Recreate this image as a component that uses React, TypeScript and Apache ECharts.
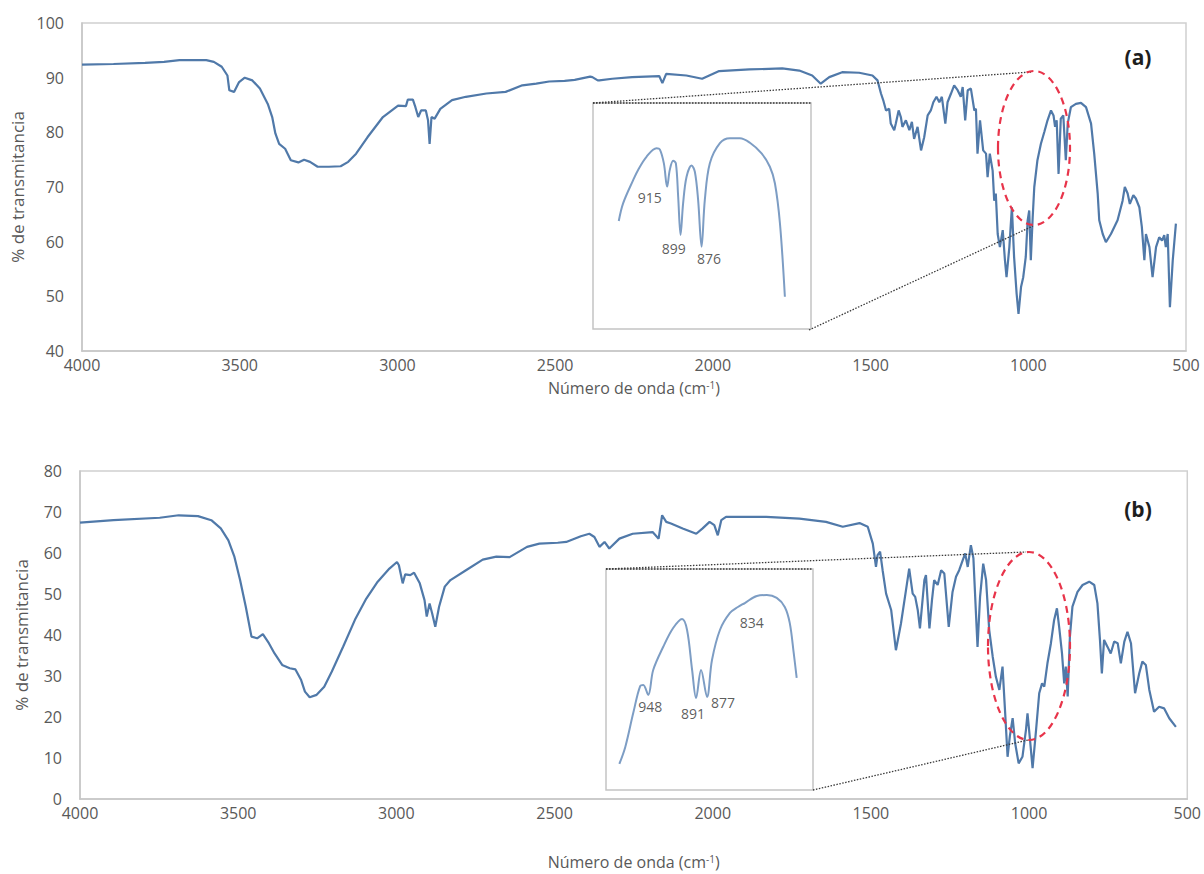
import React, { useEffect, useRef } from "react";
import * as echarts from "echarts";

// ---------- DATA ----------
const specA: [number, number][] = [
  [4000, 92.4], [3900, 92.5], [3800, 92.7], [3740, 92.9], [3691, 93.2], [3606, 93.2], [3582, 92.9], [3557, 92.0],
  [3539, 90.4], [3533, 87.7], [3518, 87.4], [3502, 89.2], [3484, 90.0], [3460, 89.5], [3436, 88.0], [3411, 85.2],
  [3397, 82.8], [3387, 79.8], [3375, 77.9], [3356, 77.0], [3338, 74.9], [3314, 74.5], [3296, 75.0], [3277, 74.6],
  [3253, 73.7], [3217, 73.7], [3180, 73.8], [3156, 74.6], [3131, 76.1], [3095, 79.1], [3046, 82.8], [2998, 84.9],
  [2973, 84.8], [2967, 86.0], [2951, 86.0], [2943, 84.6], [2934, 82.8], [2925, 84.0], [2910, 84.0], [2903, 82.2],
  [2898, 77.9], [2892, 82.8], [2882, 82.5], [2864, 84.3], [2827, 85.9], [2783, 86.5], [2718, 87.1], [2657, 87.4],
  [2604, 88.6], [2560, 88.9], [2519, 89.3], [2470, 89.4], [2438, 89.6], [2389, 90.2], [2382, 90.1], [2365, 89.5],
  [2360, 89.5], [2319, 89.8], [2256, 90.1], [2170, 90.3], [2160, 89.0], [2148, 90.7], [2084, 90.4], [2034, 89.8],
  [1980, 91.2], [1884, 91.5], [1780, 91.7], [1726, 91.3], [1685, 90.4], [1658, 88.9], [1631, 90.1], [1590, 91.0],
  [1536, 90.9], [1494, 90.4], [1478, 89.5], [1467, 87.1], [1460, 85.9], [1451, 84.0], [1441, 84.3], [1436, 81.6],
  [1425, 80.4], [1420, 81.6], [1411, 84.0], [1404, 82.8], [1399, 81.0], [1388, 82.2], [1377, 80.4], [1369, 81.9],
  [1362, 78.8], [1351, 81.0], [1340, 76.7], [1330, 79.1], [1319, 83.1], [1309, 84.0], [1301, 85.5], [1291, 86.5],
  [1282, 85.5], [1274, 86.5], [1263, 81.6], [1256, 85.5], [1245, 87.1], [1235, 88.6], [1224, 87.7], [1214, 86.5],
  [1208, 88.3], [1200, 82.2], [1192, 87.7], [1182, 88.0], [1171, 84.0], [1166, 84.3], [1161, 76.1], [1153, 82.2],
  [1143, 76.7], [1134, 76.1], [1129, 71.8], [1122, 76.1], [1113, 73.0], [1108, 67.5], [1103, 68.8], [1097, 61.4],
  [1090, 59.0], [1081, 62.1], [1074, 56.6], [1069, 53.5], [1060, 59.0], [1052, 66.3], [1045, 57.2], [1037, 50.5],
  [1031, 46.8], [1023, 51.7], [1016, 53.5], [1008, 57.2], [1002, 63.9], [997, 65.7], [992, 56.6], [986, 64.5],
  [981, 70.0], [971, 74.9], [960, 77.9], [949, 80.1], [939, 82.2], [928, 84.0], [920, 83.1], [915, 81.0],
  [910, 82.2], [904, 72.4], [897, 82.5], [889, 83.1], [881, 74.9], [875, 81.6], [865, 84.6], [849, 85.2],
  [833, 85.4], [817, 84.6], [801, 81.6], [791, 76.1], [780, 68.8], [775, 63.9], [764, 61.4], [754, 59.9],
  [738, 61.4], [717, 63.9], [701, 67.5], [694, 70.0], [685, 68.8], [678, 66.9], [667, 68.5], [659, 67.9],
  [648, 66.3], [640, 62.7], [632, 56.6], [627, 61.4], [616, 59.0], [606, 53.5], [595, 59.0], [585, 60.8],
  [576, 60.2], [569, 61.2], [564, 59.0], [558, 61.4], [551, 48.0], [542, 56.6], [532, 63.3],
];

const specB: [number, number][] = [
  [4000, 67.4], [3894, 68.0], [3748, 68.6], [3688, 69.2], [3627, 69.0], [3585, 68.0], [3555, 66.0], [3531, 63.1],
  [3512, 59.1], [3494, 53.4], [3476, 46.9], [3458, 39.6], [3440, 39.2], [3422, 40.2], [3403, 38.0], [3385, 35.5],
  [3361, 32.7], [3337, 31.9], [3319, 31.6], [3301, 29.0], [3289, 26.2], [3274, 24.8], [3252, 25.4], [3228, 27.4],
  [3204, 31.1], [3168, 37.2], [3131, 43.7], [3095, 48.9], [3059, 53.0], [3022, 56.2], [2998, 57.8], [2992, 57.0],
  [2980, 52.6], [2972, 54.8], [2956, 54.6], [2944, 55.2], [2926, 52.6], [2911, 48.5], [2904, 44.5], [2895, 47.7],
  [2887, 45.3], [2877, 42.0], [2865, 46.9], [2847, 51.8], [2829, 53.4], [2780, 55.8], [2727, 58.4], [2684, 59.1],
  [2642, 59.0], [2587, 61.5], [2548, 62.3], [2490, 62.5], [2463, 62.7], [2417, 64.1], [2390, 64.7], [2374, 63.9],
  [2358, 61.5], [2342, 62.7], [2327, 61.1], [2295, 63.5], [2253, 64.7], [2190, 65.1], [2171, 63.5], [2160, 69.2],
  [2147, 67.6], [2132, 67.2], [2095, 66.0], [2052, 64.7], [2032, 66.0], [2010, 67.6], [1995, 66.8], [1984, 64.3],
  [1973, 68.0], [1958, 68.8], [1831, 68.8], [1726, 68.4], [1642, 67.6], [1589, 66.4], [1536, 67.3], [1510, 66.4],
  [1494, 62.3], [1484, 56.6], [1479, 59.5], [1471, 60.3], [1463, 55.8], [1452, 50.1], [1436, 46.1], [1421, 36.3],
  [1405, 42.8], [1389, 51.0], [1379, 56.2], [1368, 50.1], [1360, 49.3], [1352, 46.1], [1345, 41.6], [1331, 53.4],
  [1326, 54.6], [1315, 41.6], [1307, 48.5], [1300, 53.4], [1289, 52.2], [1278, 55.8], [1268, 55.0], [1254, 42.0],
  [1242, 50.5], [1231, 54.2], [1221, 55.8], [1210, 58.2], [1202, 59.9], [1194, 56.6], [1184, 61.9], [1176, 58.7],
  [1168, 45.3], [1163, 37.1], [1155, 49.3], [1145, 57.4], [1136, 53.4], [1126, 41.2], [1115, 34.7], [1105, 29.8],
  [1094, 26.6], [1084, 32.3], [1075, 20.1], [1068, 10.3], [1061, 15.2], [1052, 19.7], [1044, 13.6], [1033, 8.7],
  [1021, 10.3], [1010, 16.8], [1005, 20.9], [998, 15.2], [989, 7.5], [978, 16.8], [968, 25.8], [959, 28.2],
  [952, 27.4], [942, 33.1], [931, 38.0], [921, 43.6], [912, 46.5], [905, 42.0], [896, 35.5], [889, 28.2],
  [884, 32.3], [878, 25.0], [871, 39.6], [863, 46.9], [847, 50.5], [831, 52.2], [810, 53.0], [794, 52.2],
  [784, 47.7], [776, 38.8], [770, 30.6], [763, 38.8], [752, 37.1], [742, 35.5], [731, 38.4], [720, 38.0],
  [710, 33.1], [699, 38.4], [689, 40.8], [678, 38.0], [665, 25.8], [652, 30.6], [642, 33.5], [631, 32.7],
  [620, 26.6], [605, 21.3], [589, 22.5], [573, 22.1], [557, 19.7], [536, 17.6],
];

// zoomed detail (inset) curves, relative transmittance
const insetA: [number, number][] = [
  [969.8, 47.8], [964.9, 55.6], [953.5, 65.9], [947.9, 70.4], [938.4, 76.2], [927.0, 80.0], [923.3, 79.5],
  [918.7, 73.3], [915.0, 63.0], [912.0, 70.4], [908.2, 74.5], [905.1, 73.3], [902.5, 58.5], [899.8, 41.6],
  [896.9, 55.6], [893.0, 67.4], [887.3, 72.3], [883.6, 69.6], [879.9, 57.1], [876.0, 36.4], [872.3, 57.1],
  [866.6, 73.3], [855.2, 82.2], [843.9, 84.4], [832.6, 84.4], [821.2, 82.4], [808.0, 77.7], [798.6, 71.8],
  [792.9, 64.5], [787.2, 46.8], [781.6, 14.3],
];
const insetB: [number, number][] = [
  [982.9, 11.8], [975.7, 19.5], [966.1, 34.8], [957.6, 47.1], [954.0, 47.5], [948.0, 43.0], [942.0, 54.3],
  [930.0, 64.7], [917.9, 73.3], [907.1, 77.4], [901.1, 72.4], [895.0, 54.3], [890.2, 41.6], [884.2, 54.3],
  [877.0, 42.1], [871.0, 58.8], [861.4, 72.4], [849.3, 80.1], [839.7, 82.8], [831.3, 84.6], [816.8, 87.8],
  [804.8, 88.2], [792.8, 86.9], [783.1, 82.8], [777.1, 75.6], [772.3, 62.0], [768.7, 50.7],
];

const peaksA = ["915", "899", "876"];
const peaksB = ["948", "891", "877", "834"];

const xTitle = "{t|Número de onda (cm}{s|-1}{t|)}";
const yTitle = "% de transmitancia";

// ---------- LAYOUT / STYLE ----------
const FONT = "'Open Sans', sans-serif";
const LINE = "#5079a9";
const INSET_LINE = "#7d9dc4";
const peakPosA: [number, number][] = [[934.6, 58.4], [907.4, 35.4], [867.7, 31.0]];
const peakPosB: [number, number][] = [[945.6, 37.6], [893.8, 34.8], [857.7, 39.4], [822.9, 75.6]];

function mainX(grid: number, gap: number) {
  return {
    gridIndex: grid, type: "value", min: 500, max: 4000, interval: 500, inverse: true,
    axisLine: { lineStyle: { color: "#c6c6c6", width: 1.5 } },
    axisTick: { show: false }, splitLine: { show: false },
    axisLabel: { color: "#595959", fontSize: 16, fontFamily: FONT, margin: 6, formatter: (v: number) => String(v) },
    name: xTitle, nameLocation: "middle", nameGap: gap,
    nameTextStyle: {
      rich: {
        t: { color: "#595959", fontSize: 16, fontFamily: FONT, lineHeight: 18 },
        s: { color: "#595959", fontSize: 10, fontFamily: FONT, lineHeight: 18, padding: [0, 0, 7, 0] },
      },
    },
  };
}
function mainY(grid: number, min: number, max: number) {
  return {
    gridIndex: grid, type: "value", min, max, interval: 10,
    axisLine: { show: true, lineStyle: { color: "#c6c6c6", width: 1.5 } },
    axisTick: { show: false }, splitLine: { show: false },
    axisLabel: { color: "#595959", fontSize: 16, fontFamily: FONT, margin: 18 },
    name: yTitle, nameLocation: "middle", nameGap: 50,
    nameTextStyle: { color: "#595959", fontSize: 17, fontFamily: FONT },
  };
}

export default function App() {
  const ref = useRef<HTMLDivElement>(null);
  useEffect(() => {
    const chart = echarts.init(ref.current!, null, { renderer: "svg" });
    const dotted = (x1: number, y1: number, x2: number, y2: number) => ({
      type: "line", z: 20, silent: true,
      shape: { x1, y1, x2, y2 },
      style: { stroke: "#3a3a3a", lineWidth: 1.3, lineDash: [1.5, 1.5] },
    });
    const option: any = {
      animation: false,
      backgroundColor: "#ffffff",
      grid: [
        { left: 82, top: 23, width: 1104, height: 328, show: true, borderColor: "#d0d0d0", borderWidth: 1.5 },
        { left: 80, top: 471, width: 1108, height: 328, show: true, borderColor: "#d0d0d0", borderWidth: 1.5 },
        { left: 593, top: 103, width: 218, height: 226 },
        { left: 606, top: 569, width: 207, height: 221 },
      ],
      xAxis: [
        mainX(0, 28),
        mainX(1, 54),
        { gridIndex: 2, type: "value", min: 752, max: 999, inverse: true, show: false },
        { gridIndex: 3, type: "value", min: 749, max: 999, inverse: true, show: false },
      ],
      yAxis: [
        mainY(0, 40, 100),
        mainY(1, 0, 80),
        { gridIndex: 2, type: "value", min: 0, max: 100, show: false },
        { gridIndex: 3, type: "value", min: 0, max: 100, show: false },
      ],
      series: [
        { type: "line", xAxisIndex: 0, yAxisIndex: 0, data: specA, showSymbol: false, z: 2, silent: true,
          lineStyle: { color: LINE, width: 2.2 } },
        { type: "line", xAxisIndex: 1, yAxisIndex: 1, data: specB, showSymbol: false, z: 2, silent: true,
          lineStyle: { color: LINE, width: 2.2 } },
        { type: "line", xAxisIndex: 2, yAxisIndex: 2, data: insetA, showSymbol: false, smooth: 0.35, z: 30, silent: true,
          lineStyle: { color: INSET_LINE, width: 2 } },
        { type: "line", xAxisIndex: 3, yAxisIndex: 3, data: insetB, showSymbol: false, smooth: 0.35, z: 30, silent: true,
          lineStyle: { color: INSET_LINE, width: 2 } },
        { type: "scatter", xAxisIndex: 2, yAxisIndex: 2, symbolSize: 0, z: 31, silent: true,
          data: peaksA.map((n, i) => ({ name: n, value: peakPosA[i] })),
          label: { show: true, position: "inside", formatter: "{b}", color: "#333333", fontSize: 14, fontFamily: FONT } },
        { type: "scatter", xAxisIndex: 3, yAxisIndex: 3, symbolSize: 0, z: 31, silent: true,
          data: peaksB.map((n, i) => ({ name: n, value: peakPosB[i] })),
          label: { show: true, position: "inside", formatter: "{b}", color: "#333333", fontSize: 14, fontFamily: FONT } },
      ],
      graphic: [
        { type: "rect", z: 10, silent: true, shape: { x: 593, y: 103, width: 218, height: 226 },
          style: { fill: "#ffffff", stroke: "#c4c4c4", lineWidth: 1.5 } },
        { type: "rect", z: 10, silent: true, shape: { x: 606, y: 569, width: 207, height: 221 },
          style: { fill: "#ffffff", stroke: "#c4c4c4", lineWidth: 1.5 } },
        dotted(593, 103, 811, 103),
        dotted(593, 103, 1031, 72),
        dotted(809, 330, 1033, 226),
        dotted(606, 569, 813, 569),
        dotted(606, 569, 1026, 552),
        dotted(813, 790, 1028, 740),
        { type: "ellipse", z: 25, silent: true, shape: { cx: 1034, cy: 148, rx: 36, ry: 77 },
          style: { fill: "none", stroke: "#e8344a", lineWidth: 2.2, lineDash: [7, 5] } },
        { type: "ellipse", z: 25, silent: true, shape: { cx: 1029, cy: 646, rx: 41, ry: 94 },
          style: { fill: "none", stroke: "#e8344a", lineWidth: 2.2, lineDash: [7, 5] } },
        { type: "text", z: 40, silent: true, x: 1138, y: 57,
          style: { text: "(a)", fill: "#1e1e1e", font: `bold 21px ${FONT}`, textAlign: "center", textVerticalAlign: "middle" } },
        { type: "text", z: 40, silent: true, x: 1138, y: 509,
          style: { text: "(b)", fill: "#1e1e1e", font: `bold 21px ${FONT}`, textAlign: "center", textVerticalAlign: "middle" } },
      ],
    };
    chart.setOption(option);
    return () => chart.dispose();
  }, []);
  return (
    <div
      ref={ref}
      style={{ position: "fixed", left: 0, top: 0, width: 1204, height: 874, background: "#ffffff" }}
    />
  );
}
